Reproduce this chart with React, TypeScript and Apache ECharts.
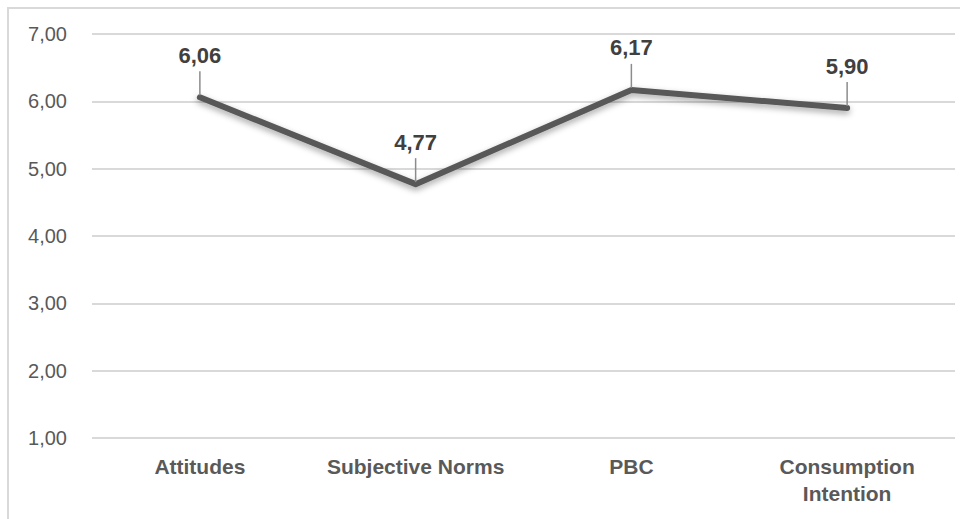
import React, { useEffect, useRef } from "react";
import * as echarts from "echarts";

const categories = ["Attitudes", "Subjective Norms", "PBC", "Consumption\nIntention"];
const values = [6.06, 4.77, 6.17, 5.9];
const yMin = 1;
const yMax = 7;
const yInterval = 1;

const fmt = (v: number) => v.toFixed(2).replace(".", ",");

export default function App() {
  const ref = useRef<HTMLDivElement>(null);
  useEffect(() => {
    if (!ref.current) return;
    const chart = echarts.init(ref.current, undefined, { renderer: "svg" });
    chart.setOption({
      animation: false,
      backgroundColor: "#ffffff",
      graphic: [
        {
          type: "rect",
          shape: { x: 8, y: 8, width: 1200, height: 1200 },
          style: { fill: "none", stroke: "#d9d9d9", lineWidth: 2 },
          silent: true,
          z: 0,
        },
      ],
      grid: { left: 92, right: 5, top: 34, bottom: 81, containLabel: false },
      xAxis: {
        type: "category",
        data: categories,
        boundaryGap: true,
        axisLine: { show: false },
        axisTick: { show: false },
        axisLabel: {
          color: "#595959",
          fontFamily: "Liberation Sans, Arial, sans-serif",
          fontWeight: "bold",
          fontSize: 21,
          lineHeight: 27,
          margin: 15,
          interval: 0,
        },
      },
      yAxis: {
        type: "value",
        min: yMin,
        max: yMax,
        interval: yInterval,
        axisLine: { show: false },
        axisTick: { show: false },
        splitLine: { lineStyle: { color: "#d9d9d9", width: 2 } },
        axisLabel: {
          color: "#595959",
          fontFamily: "Liberation Sans, Arial, sans-serif",
          fontSize: 20,
          margin: 25,
          formatter: (v: number) => fmt(v),
        },
      },
      series: [
        {
          type: "line",
          data: values,
          symbol: "none",
          z: 3,
          lineStyle: {
            color: "#595959",
            width: 6,
            cap: "round",
            join: "round",
            shadowColor: "rgba(0,0,0,0.35)",
            shadowBlur: 6,
            shadowOffsetY: 3,
          },
        },
        {
          type: "custom",
          data: values.map((v, i) => [i, v]),
          z: 4,
          renderItem: (params: any, api: any) => {
            const p = api.coord([api.value(0), api.value(1)]);
            return {
              type: "group",
              children: [
                {
                  type: "line",
                  shape: { x1: p[0], y1: p[1] - 2, x2: p[0], y2: p[1] - 26 },
                  style: { stroke: "#8c8c8c", lineWidth: 1.5 },
                },
                {
                  type: "text",
                  x: p[0],
                  y: p[1] - 42,
                  style: {
                    text: fmt(api.value(1)),
                    fill: "#404040",
                    font: "bold 22px Liberation Sans, Arial, sans-serif",
                    align: "center",
                    verticalAlign: "middle",
                  },
                },
              ],
            };
          },
        },
      ],
    });
    return () => chart.dispose();
  }, []);
  return (
    <div
      ref={ref}
      style={{ position: "fixed", left: 0, top: 0, width: 960, height: 519 }}
    />
  );
}
